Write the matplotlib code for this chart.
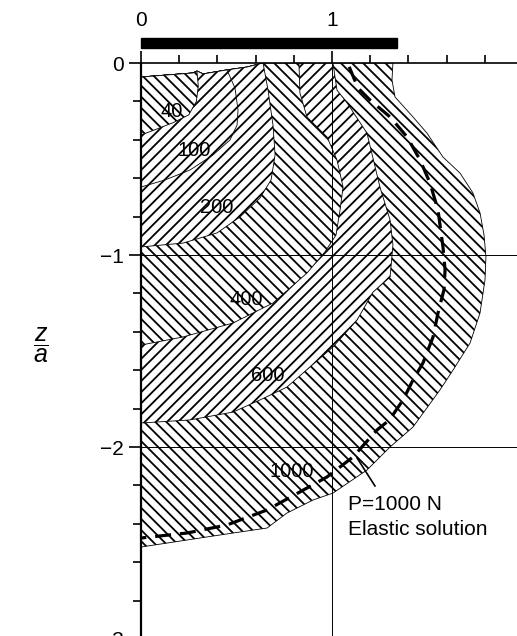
import numpy as np
import matplotlib.pyplot as plt
from matplotlib.patches import Polygon, Rectangle

plt.rcParams['font.family'] = ['Liberation Sans', 'DejaVu Sans']
plt.rcParams['mathtext.fontset'] = 'custom'
plt.rcParams['mathtext.it'] = 'Liberation Sans:italic'
plt.rcParams['mathtext.rm'] = 'Liberation Sans'
plt.rcParams['hatch.linewidth'] = 1.3

# top edge of the hatched zones (x/a, z/a)
surf_x = [0.0, 0.272, 0.293, 0.325, 0.450, 0.555, 0.639]
surf_z = [-0.073, -0.052, -0.042, -0.057, -0.036, -0.021, 0.0]

# plastic zone boundaries for each load (N)
c40_x = [0.293, 0.300, 0.290, 0.250, 0.170, 0.080, 0.0]
c40_z = [-0.045, -0.120, -0.200, -0.270, -0.310, -0.345, -0.375]

c100_x = [0.450, 0.492, 0.508, 0.503, 0.466, 0.377, 0.257, 0.126, 0.0]
c100_z = [-0.036, -0.130, -0.245, -0.323, -0.401, -0.479, -0.557, -0.609, -0.646]

c200_x = [0.639, 0.665, 0.691, 0.702, 0.681, 0.623, 0.518, 0.398, 0.220, 0.0]
c200_z = [0.0, -0.141, -0.323, -0.479, -0.609, -0.703, -0.802, -0.885, -0.938, -0.958]

c400_x = [0.827, 0.832, 0.869, 0.974, 1.026, 1.058, 1.042, 1.021, 0.963, 0.869,
          0.691, 0.482, 0.220, 0.0]
c400_z = [0.0, -0.156, -0.281, -0.385, -0.505, -0.646, -0.766, -0.896, -0.984, -1.094,
          -1.250, -1.354, -1.427, -1.469]

c600_x = [1.005, 1.026, 1.079, 1.183, 1.251, 1.304, 1.319, 1.304, 1.215, 1.131,
          1.005, 0.885, 0.764, 0.623, 0.482, 0.257, 0.0]
c600_z = [0.0, -0.141, -0.208, -0.365, -0.646, -0.818, -0.948, -1.115, -1.193, -1.339,
          -1.479, -1.583, -1.688, -1.755, -1.818, -1.859, -1.875]

c1000_x = [1.319, 1.314, 1.330, 1.424, 1.497, 1.581, 1.670, 1.738, 1.775, 1.796,
           1.806, 1.801, 1.775, 1.723, 1.634, 1.565, 1.424, 1.304, 1.183, 1.005,
           0.901, 0.764, 0.660, 0.482, 0.309, 0.0]
c1000_z = [0.0, -0.089, -0.177, -0.281, -0.365, -0.490, -0.573, -0.677, -0.781, -0.896,
           -1.010, -1.130, -1.302, -1.458, -1.599, -1.703, -1.896, -2.000, -2.120, -2.240,
           -2.276, -2.344, -2.422, -2.448, -2.474, -2.521]

# elastic solution, P = 1000 N
el_x = [1.090, 1.136, 1.199, 1.304, 1.393, 1.461, 1.513, 1.555, 1.581, 1.592,
        1.586, 1.555, 1.529, 1.476, 1.424, 1.372, 1.300, 1.236, 1.110, 0.974,
        0.832, 0.660, 0.450, 0.241, 0.0]
el_z = [-0.020, -0.130, -0.193, -0.281, -0.385, -0.505, -0.625, -0.766, -0.958, -1.078,
        -1.182, -1.302, -1.427, -1.563, -1.651, -1.755, -1.860, -1.911, -2.052, -2.156,
        -2.234, -2.328, -2.406, -2.448, -2.474]

zones = [(c1000_x, c1000_z, '\\\\\\'), (c600_x, c600_z, '///'), (c400_x, c400_z, '\\\\\\'),
         (c200_x, c200_z, '///'), (c100_x, c100_z, '///'), (c40_x, c40_z, '\\\\\\')]

labels = ['40', '100', '200', '400', '600', '1000']
lab_x = [0.162, 0.277, 0.398, 0.550, 0.665, 0.791]
lab_z = [-0.250, -0.458, -0.755, -1.234, -1.630, -2.130]


def zone_outline(cx, cz):
    pts = [(x, z) for x, z in zip(surf_x, surf_z) if x < cx[0]]
    pts += list(zip(cx, cz))
    return pts


fig = plt.figure(figsize=(5.17, 6.36), dpi=100)
ax = fig.add_axes([141 / 517, 1 - 639 / 636, 382 / 517, 576 / 636])

for cx, cz, h in zones:
    ax.add_patch(Polygon(zone_outline(cx, cz), closed=True, facecolor='white',
                         edgecolor='black', hatch=h, lw=0.6, zorder=1))

ax.axvline(1, color='black', lw=0.7, zorder=2.5)
ax.axhline(-1, color='black', lw=0.7, zorder=2.5)
ax.axhline(-2, color='black', lw=0.7, zorder=2.5)

ax.plot(el_x, el_z, color='black', lw=2.3, dashes=(5, 2.8), zorder=3)

for t, x, z in zip(labels, lab_x, lab_z):
    ax.text(x, z, t, ha='center', va='center', fontsize=14.5, zorder=4)

ax.plot([1.131, 1.225], [-2.057, -2.203], color='black', lw=1.2, zorder=4)
ax.text(1.084, -2.328, 'P=1000 N', ha='left', va='baseline', fontsize=15, zorder=4)
ax.text(1.084, -2.458, 'Elastic solution', ha='left', va='baseline', fontsize=15, zorder=4)

# scale bar above the plot
ax.add_patch(Rectangle((0, 0.078), 1.34, 0.052, color='black', clip_on=False))

ax.set_xlim(0, 2)
ax.set_ylim(-3, 0)
ax.xaxis.tick_top()
ax.set_xticks([0, 1, 2])
ax.set_xticks(np.arange(0, 2.01, 0.2), minor=True)
ax.set_yticks([0, -1, -2, -3])
ax.set_yticks(np.arange(-3, 0.01, 0.2), minor=True)
ax.tick_params(which='both', direction='out', width=1.2, labelsize=15)
ax.tick_params(which='major', length=8.6)
ax.tick_params(which='minor', length=5.5)
ax.tick_params(axis='x', pad=15)
ax.tick_params(axis='y', pad=3.5)
for s in ['right', 'bottom']:
    ax.spines[s].set_visible(False)
ax.spines['left'].set_linewidth(1.6)
ax.spines['top'].set_linewidth(1.2)

fig.text(41 / 517, 1 - 345 / 636, r'$\dfrac{z}{a}$', fontsize=18, ha='center', va='center')

fig.savefig('out.png', dpi=100)
